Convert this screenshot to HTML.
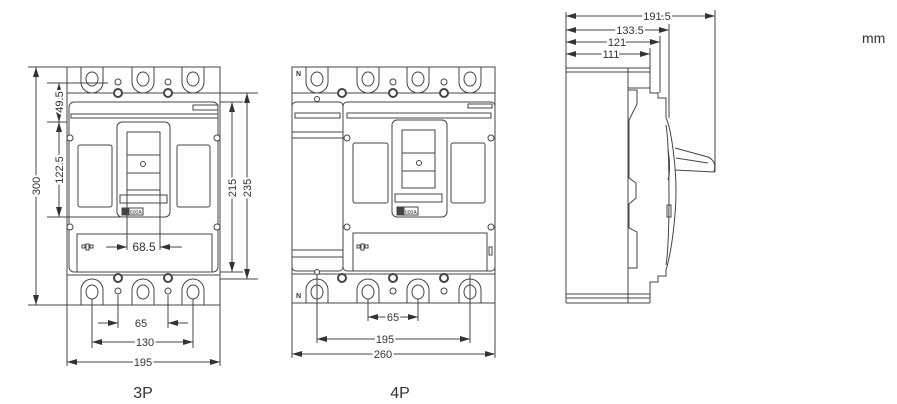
<!DOCTYPE html>
<html><head><meta charset="utf-8"><style>
html,body{margin:0;padding:0;background:#fff;}
svg{display:block;}
text{font-family:"Liberation Sans",Arial,sans-serif;fill:#333;}
</style></head><body>
<svg width="897" height="404" viewBox="0 0 897 404" xmlns="http://www.w3.org/2000/svg">
<defs>
<marker id="a" viewBox="0 0 10 6" refX="10" refY="3" markerWidth="10" markerHeight="6" markerUnits="userSpaceOnUse" orient="auto-start-reverse"><path d="M0 0 L10 3 L0 6 Z" fill="#333"/></marker>
</defs>
<g fill="none" stroke="#444" stroke-width="1">
<!-- ===== 3P ===== -->
<rect x="67" y="67" width="153" height="238"/>
<line x1="67" y1="93" x2="220" y2="93"/>
<line x1="67" y1="275" x2="220" y2="275"/>
<rect x="69" y="102" width="149" height="170" rx="5"/>
<rect x="71" y="114" width="147" height="4"/>
<rect x="193" y="105" width="25" height="5"/>
<rect x="117" y="122" width="53" height="95" rx="5"/>
<rect x="127" y="132" width="33" height="58"/>
<rect x="127" y="155" width="33" height="18"/>
<circle cx="143" cy="164" r="2.5"/>
<rect x="120" y="195" width="47" height="8"/>
<rect x="78" y="145" width="34" height="62" rx="2"/>
<rect x="177" y="145" width="33" height="62" rx="2"/>
<rect x="77" y="234" width="135" height="38"/>
<rect x="122" y="208" width="6" height="7" fill="#444"/>
<rect x="129" y="208" width="14" height="7"/>
<g fill="#fff">
<circle cx="70" cy="138" r="3"/><circle cx="217" cy="138" r="3"/>
<circle cx="70" cy="227" r="3"/><circle cx="217" cy="227" r="3"/>
<circle cx="118" cy="93" r="4" stroke-width="2"/><circle cx="168" cy="93" r="4" stroke-width="2"/>
<circle cx="118" cy="278" r="4" stroke-width="2"/><circle cx="168" cy="278" r="4" stroke-width="2"/>
<circle cx="118" cy="82" r="3"/><circle cx="168" cy="82" r="3"/>
<circle cx="118" cy="291" r="3"/><circle cx="168" cy="291" r="3"/>
</g>
<path d="M81 67V82A11 11 0 0 0 103 82V67M132 67V82A11 11 0 0 0 154 82V67M182 67V82A11 11 0 0 0 204 82V67"/>
<ellipse cx="92" cy="79" rx="6" ry="7"/><ellipse cx="143" cy="79" rx="6" ry="7"/><ellipse cx="193" cy="79" rx="6" ry="7"/>
<path d="M81 305V290A11 11 0 0 1 103 290V305M132 305V290A11 11 0 0 1 154 290V305M182 305V290A11 11 0 0 1 204 290V305"/>
<ellipse cx="92" cy="292" rx="6" ry="7"/><ellipse cx="143" cy="292" rx="6" ry="7"/><ellipse cx="193" cy="292" rx="6" ry="7"/>
<rect x="82" y="245" width="3" height="3"/><rect x="86" y="244" width="3" height="6"/><rect x="90" y="245" width="3" height="3"/>
<!-- 3P dims -->
<line x1="28" y1="67" x2="67" y2="67"/><line x1="28" y1="305" x2="67" y2="305"/>
<line x1="36" y1="67" x2="36" y2="305" marker-start="url(#a)" marker-end="url(#a)"/>
<line x1="47" y1="83" x2="108" y2="83"/><line x1="47" y1="122" x2="67" y2="122"/>
<line x1="47" y1="217" x2="120" y2="217"/>
<line x1="59" y1="83" x2="59" y2="122" marker-start="url(#a)" marker-end="url(#a)"/>
<line x1="59" y1="122" x2="59" y2="217" marker-start="url(#a)" marker-end="url(#a)"/>
<line x1="220" y1="102" x2="243" y2="102"/><line x1="220" y1="93" x2="258" y2="93"/>
<line x1="220" y1="272" x2="243" y2="272"/><line x1="220" y1="279" x2="258" y2="279"/>
<line x1="232" y1="102" x2="232" y2="272" marker-start="url(#a)" marker-end="url(#a)"/>
<line x1="247" y1="93" x2="247" y2="279" marker-start="url(#a)" marker-end="url(#a)"/>
<line x1="127" y1="190" x2="127" y2="250"/><line x1="160" y1="190" x2="160" y2="250"/>
<line x1="106" y1="247" x2="127" y2="247" marker-end="url(#a)"/>
<line x1="182" y1="247" x2="160" y2="247" marker-end="url(#a)"/>
<line x1="118" y1="295" x2="118" y2="328"/><line x1="168" y1="295" x2="168" y2="328"/>
<line x1="98" y1="323" x2="118" y2="323" marker-end="url(#a)"/>
<line x1="188" y1="323" x2="168" y2="323" marker-end="url(#a)"/>
<line x1="92" y1="299" x2="92" y2="348"/><line x1="193" y1="299" x2="193" y2="348"/>
<line x1="92" y1="342" x2="193" y2="342" marker-start="url(#a)" marker-end="url(#a)"/>
<line x1="67" y1="305" x2="67" y2="366"/><line x1="220" y1="305" x2="220" y2="366"/>
<line x1="67" y1="362" x2="220" y2="362" marker-start="url(#a)" marker-end="url(#a)"/>

<!-- ===== 4P ===== -->
<rect x="292" y="67" width="203" height="236"/>
<line x1="292" y1="93" x2="495" y2="93"/>
<line x1="292" y1="274" x2="495" y2="274"/>
<rect x="292" y="102" width="51" height="169" rx="4"/>
<rect x="343" y="102" width="152" height="169" rx="4"/>
<rect x="295" y="113" width="45" height="5"/>
<rect x="347" y="113" width="144" height="5"/>
<rect x="468" y="104" width="24" height="4"/>
<line x1="292" y1="132" x2="343" y2="132"/><line x1="292" y1="138" x2="343" y2="138"/>
<line x1="292" y1="250" x2="343" y2="250"/><line x1="292" y1="257" x2="343" y2="257"/>
<rect x="392" y="120" width="55" height="97" rx="5"/>
<rect x="402" y="130" width="33" height="58"/>
<rect x="402" y="153" width="33" height="18"/>
<circle cx="419" cy="163" r="2.5"/>
<rect x="395" y="194" width="47" height="8"/>
<rect x="353" y="143" width="35" height="60" rx="2"/>
<rect x="451" y="143" width="34" height="60" rx="2"/>
<rect x="353" y="233" width="134" height="38"/>
<rect x="397" y="207" width="6" height="8" fill="#444"/>
<rect x="404" y="207" width="14" height="8"/>
<g fill="#fff">
<circle cx="347" cy="138" r="3"/><circle cx="491" cy="138" r="3"/>
<circle cx="347" cy="227" r="3"/><circle cx="491" cy="227" r="3"/>
<circle cx="317" cy="99" r="2.5"/><circle cx="317" cy="272" r="2.5"/>
<circle cx="342" cy="93" r="4" stroke-width="2"/><circle cx="393" cy="93" r="4" stroke-width="2"/><circle cx="444" cy="93" r="4" stroke-width="2"/>
<circle cx="342" cy="278" r="4" stroke-width="2"/><circle cx="393" cy="278" r="4" stroke-width="2"/><circle cx="444" cy="278" r="4" stroke-width="2"/>
<circle cx="393" cy="82" r="3"/><circle cx="444" cy="82" r="3"/>
<circle cx="393" cy="291" r="3"/><circle cx="444" cy="291" r="3"/>
</g>
<path d="M306 67V82A11 11 0 0 0 328 82V67M357 67V82A11 11 0 0 0 379 82V67M407 67V82A11 11 0 0 0 429 82V67M459 67V82A11 11 0 0 0 481 82V67"/>
<ellipse cx="317" cy="79" rx="6" ry="7"/><ellipse cx="368" cy="79" rx="6" ry="7"/><ellipse cx="418" cy="79" rx="6" ry="7"/><ellipse cx="470" cy="79" rx="6" ry="7"/>
<path d="M306 303V290A11 11 0 0 1 328 290V303M357 303V290A11 11 0 0 1 379 290V303M407 303V290A11 11 0 0 1 429 290V303M459 303V290A11 11 0 0 1 481 290V303"/>
<ellipse cx="317" cy="292" rx="6" ry="7"/><ellipse cx="368" cy="292" rx="6" ry="7"/><ellipse cx="418" cy="292" rx="6" ry="7"/><ellipse cx="470" cy="292" rx="6" ry="7"/>
<rect x="357" y="245" width="3" height="3"/><rect x="361" y="244" width="3" height="6"/><rect x="365" y="245" width="3" height="3"/>
<rect x="489" y="247" width="3" height="8"/>
<!-- 4P dims -->
<line x1="368" y1="299" x2="368" y2="321"/><line x1="418" y1="299" x2="418" y2="321"/>
<line x1="368" y1="317" x2="418" y2="317" marker-start="url(#a)" marker-end="url(#a)"/>
<line x1="317" y1="275" x2="317" y2="343"/><line x1="470" y1="275" x2="470" y2="343"/>
<line x1="317" y1="339" x2="470" y2="339" marker-start="url(#a)" marker-end="url(#a)"/>
<line x1="292" y1="303" x2="292" y2="358"/><line x1="495" y1="303" x2="495" y2="358"/>
<line x1="292" y1="354" x2="495" y2="354" marker-start="url(#a)" marker-end="url(#a)"/>

<!-- ===== Side view ===== -->
<line x1="566" y1="12" x2="566" y2="303"/>
<line x1="566" y1="68" x2="650" y2="68"/><line x1="566" y1="72" x2="650" y2="72"/>
<line x1="566" y1="294" x2="650" y2="294"/><line x1="566" y1="298" x2="650" y2="298"/>
<line x1="566" y1="303" x2="650" y2="303"/>
<line x1="628" y1="68" x2="628" y2="303"/>
<path d="M628 88H650V68M650 88V93H658V92H658V98H666V118 M666 270V276H658V282H650V303"/>
<path d="M628 90H637V104L629 120V178L636 183V198L629 204V228L637 232V268H628"/>
<path d="M666 118C672 130 676 170 676 190C676 215 672 250 666 270"/>
<path d="M666 125C670 150 670 240 666 265"/>
<path d="M668 150C670 160 670 175 668 180"/>
<rect x="667" y="205" width="4" height="12"/>
<path d="M675 148L708 157C714 160 716 164 714 172L675 170"/>
<path d="M676 158L708 163"/>
<line x1="566" y1="16" x2="715" y2="16" marker-start="url(#a)" marker-end="url(#a)"/>
<line x1="715" y1="10" x2="715" y2="172"/>
<line x1="566" y1="30" x2="669" y2="30" marker-start="url(#a)" marker-end="url(#a)"/>
<line x1="669" y1="24" x2="669" y2="118"/>
<line x1="566" y1="42" x2="660" y2="42" marker-start="url(#a)" marker-end="url(#a)"/>
<line x1="660" y1="36" x2="660" y2="93"/>
<line x1="566" y1="54" x2="650" y2="54" marker-start="url(#a)" marker-end="url(#a)"/>
<line x1="650" y1="48" x2="650" y2="68"/>
</g>
<g font-size="11" fill="#333">
<text transform="translate(36 186) rotate(-90)" text-anchor="middle" y="4" stroke="#fff" stroke-width="4" paint-order="stroke">300</text>
<text transform="translate(59 102) rotate(-90)" text-anchor="middle" y="4" stroke="#fff" stroke-width="4" paint-order="stroke">49.5</text>
<text transform="translate(59 170) rotate(-90)" text-anchor="middle" y="4" stroke="#fff" stroke-width="4" paint-order="stroke">122.5</text>
<text transform="translate(232 188) rotate(-90)" text-anchor="middle" y="4" stroke="#fff" stroke-width="4" paint-order="stroke">215</text>
<text transform="translate(247 188) rotate(-90)" text-anchor="middle" y="4" stroke="#fff" stroke-width="4" paint-order="stroke">235</text>
<text x="144" y="251" text-anchor="middle" font-size="12">68.5</text>
<text x="141" y="327" text-anchor="middle">65</text>
<text x="145" y="346" text-anchor="middle" stroke="#fff" stroke-width="4" paint-order="stroke">130</text>
<text x="143" y="366" text-anchor="middle" stroke="#fff" stroke-width="4" paint-order="stroke">195</text>
<text x="393" y="321" text-anchor="middle" stroke="#fff" stroke-width="4" paint-order="stroke">65</text>
<text x="385" y="343" text-anchor="middle" stroke="#fff" stroke-width="4" paint-order="stroke">195</text>
<text x="383" y="358" text-anchor="middle" stroke="#fff" stroke-width="4" paint-order="stroke">260</text>
<text x="657" y="20" text-anchor="middle" stroke="#fff" stroke-width="4" paint-order="stroke">191.5</text>
<text x="630" y="34" text-anchor="middle" stroke="#fff" stroke-width="4" paint-order="stroke">133.5</text>
<text x="617" y="46" text-anchor="middle" stroke="#fff" stroke-width="4" paint-order="stroke">121</text>
<text x="611" y="58" text-anchor="middle" stroke="#fff" stroke-width="4" paint-order="stroke">111</text>
<text x="296" y="76" font-size="7" font-weight="bold">N</text>
<text x="296" y="298" font-size="7" font-weight="bold">N</text>
<text x="130" y="214" font-size="5">600A</text>
<text x="405" y="214" font-size="5">600A</text>
</g>
<text x="143" y="398" font-size="16" text-anchor="middle">3P</text>
<text x="400" y="398" font-size="16" text-anchor="middle">4P</text>
<text x="862" y="43" font-size="14">mm</text>
</svg>
</body></html>
